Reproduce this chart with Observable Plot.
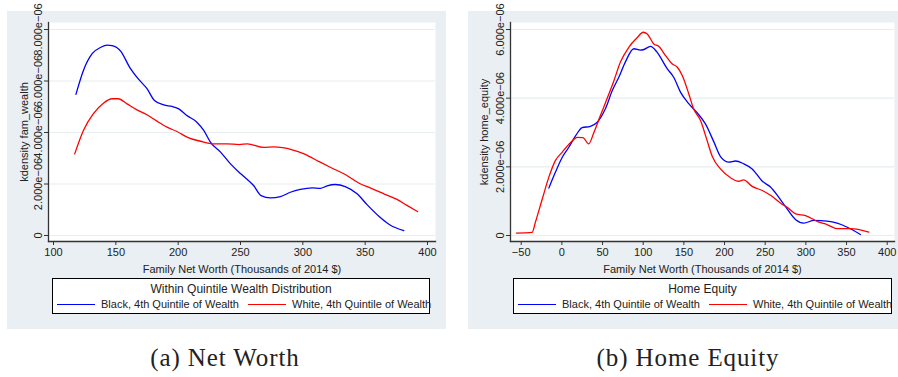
<!DOCTYPE html>
<html><head><meta charset="utf-8">
<script src="https://cdn.jsdelivr.net/npm/d3@7"></script>
<script src="https://cdn.jsdelivr.net/npm/@observablehq/plot@0.6"></script>
<style>
body{margin:0;background:#fff;width:898px;height:377px;position:relative;overflow:hidden;font-family:"Liberation Sans",Arial,sans-serif;}
.panel{position:absolute;background:#e9eff2;}
.chart{position:absolute;}
.legend{position:absolute;background:#fff;border:1px solid #000;box-sizing:border-box;color:#222;}
.legend .lt{position:absolute;left:0;right:0;text-align:center;font-size:12px;line-height:12px;}
.legend .sw{position:absolute;height:0;border-top:1.4px solid;}
.legend .tx{position:absolute;font-size:11px;line-height:11px;white-space:nowrap;}
.caption{position:absolute;font-family:"Liberation Serif","Times New Roman","DejaVu Serif",serif;font-size:25px;letter-spacing:0.9px;transform:translate(-50%,-50%);white-space:nowrap;color:#222;}
</style></head><body>
<script>
// ---- data (densities in units of 1e-6) ----
const series = ["Black, 4th Quintile of Wealth", "White, 4th Quintile of Wealth"];
const seriesColors = ["#0000ff", "#ff0000"];

const nwBlackX = [118,124,131,138,143,147,154,161,168,175,181,188.5,195,200.5,207,215,220.5,226,234,242,249,253,260.5,266.5,274,282,290,298,307.5,314,319.5,326,334,343.5,351.5,361,370,381];
const nwBlackY = [5.48,6.41,7.06,7.31,7.39,7.37,7.15,6.54,6.08,5.70,5.24,5.07,5.01,4.92,4.66,4.40,4.08,3.62,3.24,2.78,2.45,2.28,1.94,1.55,1.46,1.51,1.68,1.79,1.85,1.83,1.93,1.98,1.90,1.62,1.20,0.75,0.41,0.19];
const nwWhiteX = [117,124,132,140,147,152,159,167,175,183,191,199,208.5,218,228.5,239,249,255.5,268.5,276.5,291.5,301,313,322,334,346,354,365,375.5,383.5,392];
const nwWhiteY = [3.17,4.08,4.73,5.14,5.31,5.31,5.11,4.88,4.69,4.44,4.21,4.04,3.79,3.66,3.56,3.56,3.53,3.56,3.42,3.44,3.33,3.17,2.87,2.65,2.37,2.01,1.85,1.62,1.40,1.17,0.93];

const heBlackX = [-16,-8,0.5,8.5,17,25,35,43.5,53.5,62,70,78,88.5,96.5,100,109,117,129.5,137.5,146,156,166.5,176.5,187,195,205.5,213.5,223.5,234,246.5,256.5,266.5,275,287.5,297.5,310,326,338.5,351,367];
const heBlackY = [1.38,1.84,2.28,2.57,2.91,3.14,3.18,3.30,3.69,4.22,4.61,5.05,5.44,5.40,5.41,5.51,5.34,4.86,4.61,4.17,3.84,3.57,3.25,2.72,2.30,2.14,2.17,2.09,1.94,1.58,1.41,1.12,0.84,0.46,0.36,0.44,0.42,0.36,0.24,0.03];
const heWhiteX = [-56,-36.5,-32.5,-24,-16,-8,0.5,10.5,19,26,33,39.5,47.5,55.5,64,72,82.5,92.5,100,105,113,119,127.5,135.5,142,148,156,162,170.5,178.5,185,195,207.5,217.5,223.5,234,246.5,256.5,269,277,287.5,299.5,316,326,338.5,355,377.5];
const heWhiteY = [0.07,0.09,0.39,1.07,1.70,2.18,2.43,2.70,2.86,2.85,2.67,3.01,3.50,3.98,4.51,5.05,5.49,5.76,5.92,5.87,5.58,5.51,5.24,5.00,4.90,4.66,4.13,3.69,3.35,2.77,2.30,1.94,1.68,1.58,1.62,1.43,1.31,1.17,0.94,0.82,0.63,0.58,0.39,0.32,0.20,0.20,0.10];

const nwXTicks = [100,150,200,250,300,350,400];
const nwYTicks = [0,2,4,6,8];
const heXTicks = [-50,0,50,100,150,200,250,300,350,400];
const heYTicks = [0,2,4,6];

const xTitle = "Family Net Worth (Thousands of 2014 $)";
const nwYTitle = "kdensity fam_wealth";
const heYTitle = "kdensity home_equity";
const nwLegendTitle = "Within Quintile Wealth Distribution";
const heLegendTitle = "Home Equity";
const captions = ["(a) Net Worth", "(b) Home Equity"];

function rows(xs, ys, s) { return xs.map((x, i) => ({x, y: ys[i], s})); }
const yFmt = d => d === 0 ? "0" : d.toFixed(3) + "e\u221206";

function makeChart(o) {
  const data = o.blacks.concat(o.whites);
  return Plot.plot({
    width: o.w, height: o.h,
    marginLeft: o.mL, marginRight: o.mR, marginTop: o.mT, marginBottom: o.mB,
    style: {background: "transparent", fontFamily: "Liberation Sans, Arial, sans-serif", fontSize: "11px", color: "#222", overflow: "visible"},
    x: {domain: o.xDomain, insetLeft: o.inL, insetRight: o.inR},
    y: {domain: o.yDomain, insetTop: 7, insetBottom: 6},
    color: {domain: series, range: seriesColors},
    marks: [
      Plot.frame({fill: "#fff", stroke: null}),
      Plot.gridY(o.yTicks, {stroke: "#e6eef0", strokeOpacity: 1, strokeWidth: 1.2}),
      Plot.line(data, {x: "x", y: "y", z: "s", stroke: "s", strokeWidth: 1.3, curve: "monotone-x"}),
      Plot.frame({anchor: "left", stroke: "#333", strokeWidth: 1.3}),
      Plot.frame({anchor: "bottom", stroke: "#333", strokeWidth: 1.3}),
      Plot.axisX(o.xTicks, {tickSize: 4, tickPadding: 3, stroke: "#333", label: xTitle, labelAnchor: "center", labelArrow: "none", labelOffset: 31, tickFormat: d => d < 0 ? "\u2212" + Math.abs(d) : String(d)}),
      Plot.axisY(o.yTicks, {tickSize: 4, tickPadding: 3, stroke: "#333", tickRotate: -90, textAnchor: "middle", lineAnchor: "bottom", tickFormat: yFmt, label: o.yTitle, labelAnchor: "center", labelArrow: "none", labelOffset: o.lblOff})
    ]
  });
}

function place(el, left, top) {
  el.style.position = "absolute"; el.style.left = left + "px"; el.style.top = top + "px";
  document.body.appendChild(el);
}
function box(cls, l, t, w, h) {
  const d = document.createElement("div"); d.className = cls;
  d.style.left = l + "px"; d.style.top = t + "px"; d.style.width = w + "px"; d.style.height = h + "px";
  document.body.appendChild(d); return d;
}
function legend(l, t, w, title) {
  const d = box("legend", l, t, w, 36);
  const tt = document.createElement("div"); tt.className = "lt"; tt.style.top = "4px"; tt.textContent = title; d.appendChild(tt);
  const offs = [4, 195];
  series.forEach((s, i) => {
    const sw = document.createElement("div"); sw.className = "sw";
    sw.style.left = offs[i] + "px"; sw.style.width = "38px"; sw.style.top = "25px"; sw.style.borderColor = seriesColors[i];
    d.appendChild(sw);
    const tx = document.createElement("div"); tx.className = "tx";
    tx.style.left = (offs[i] + 44) + "px"; tx.style.top = "20px"; tx.textContent = s;
    d.appendChild(tx);
  });
}
function caption(text, cx, cy) {
  const c = document.createElement("div"); c.className = "caption"; c.textContent = text;
  c.style.left = cx + "px"; c.style.top = cy + "px"; document.body.appendChild(c);
}

// Panel backgrounds
box("panel", 7, 11, 439, 318);
box("panel", 468, 11, 440, 318);

// Left chart
place(makeChart({
  w: 439, h: 262, mL: 41, mR: 11, mT: 11, mB: 32, inL: 5, inR: 8,
  xDomain: [100, 400], yDomain: [0, 8], xTicks: nwXTicks, yTicks: nwYTicks,
  yTitle: nwYTitle, lblOff: 28,
  blacks: rows(nwBlackX, nwBlackY, series[0]), whites: rows(nwWhiteX, nwWhiteY, series[1])
}), 7, 11);

// Right chart
place(makeChart({
  w: 430, h: 262, mL: 42, mR: 4, mT: 11, mB: 32, inL: 10.7, inR: 7.3,
  xDomain: [-50, 400], yDomain: [0, 6], xTicks: heXTicks, yTicks: heYTicks,
  yTitle: heYTitle, lblOff: 30,
  blacks: rows(heBlackX, heBlackY, series[0]), whites: rows(heWhiteX, heWhiteY, series[1])
}), 468, 11);

legend(52, 278, 378, nwLegendTitle);
legend(513, 278, 379, heLegendTitle);
caption(captions[0], 225, 358);
caption(captions[1], 688, 358);
</script>
</body></html>
